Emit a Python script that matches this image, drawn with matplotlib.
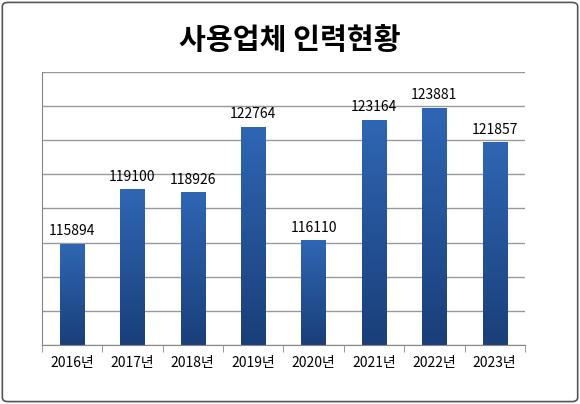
import numpy as np
import matplotlib.pyplot as plt
from matplotlib.patches import FancyBboxPatch

plt.rcParams['font.family'] = ['Noto Sans CJK KR', 'DejaVu Sans']

years = ['2016년', '2017년', '2018년', '2019년', '2020년', '2021년', '2022년', '2023년']
workers = [115894, 119100, 118926, 122764, 116110, 123164, 123881, 121857]

fig = plt.figure(figsize=(5.8, 4.04), dpi=100)
fig.patches.append(FancyBboxPatch((0.004, 0.006), 0.992, 0.988, boxstyle='round,pad=0,rounding_size=0.01',
                                  transform=fig.transFigure, fill=False, edgecolor='#555555', lw=1.2))
ax = fig.add_axes([0.072, 0.146, 0.833, 0.676])

ymin, ymax = 110000, 126000
ax.set_ylim(ymin, ymax)
ax.set_xlim(-0.5, len(years) - 0.5)
ax.set_yticks(np.arange(ymin, ymax + 1, 2000))
ax.yaxis.grid(True, color='#999999', lw=1)
ax.set_axisbelow(True)
ax.tick_params(axis='y', length=0, labelleft=False)
ax.set_xticks(range(len(years)))
ax.set_xticklabels(years, fontsize=10)
ax.set_xticks(np.arange(-0.5, len(years)), minor=True)
ax.tick_params(axis='x', which='major', length=0, pad=8)
ax.tick_params(axis='x', which='minor', length=5, color='#888888')
for s in ['top', 'right']:
    ax.spines[s].set_visible(False)
ax.spines['left'].set_color('#888888')
ax.spines['bottom'].set_color('#888888')

grad = np.linspace(0, 1, 100).reshape(-1, 1)
cmap = plt.matplotlib.colors.LinearSegmentedColormap.from_list('b', ['#1a3f7a', '#2f66b3'])
w = 0.4
for i, v in enumerate(workers):
    ax.imshow(grad, extent=[i - w / 2, i + w / 2, ymin, v], origin='lower', cmap=cmap,
              aspect='auto', zorder=2)
    ax.text(i, v + 350, str(v), ha='center', va='bottom', fontsize=10)
ax.set_xlim(-0.5, len(years) - 0.5)
ax.set_ylim(ymin, ymax)

fig.text(0.5, 0.9, '사용업체 인력현황', ha='center', va='center', fontsize=21, fontweight='bold')
fig.savefig('out.png', dpi=100)
